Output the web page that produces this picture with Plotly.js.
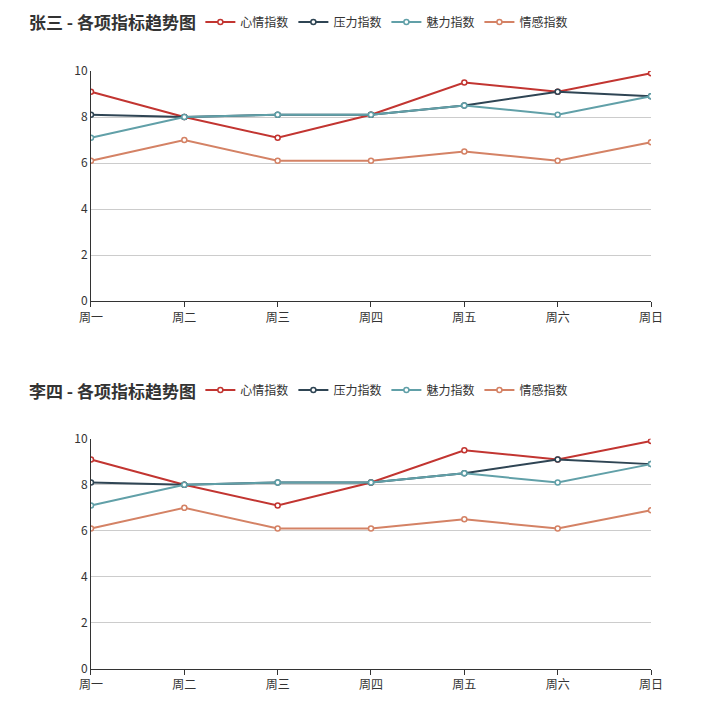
<!DOCTYPE html>
<html>
<head>
<meta charset="utf-8">
<script src="https://cdn.plot.ly/plotly-3.0.1.min.js"></script>
<style>html,body{margin:0;padding:0;background:#fff}</style>
</head>
<body>
<div id="plot" style="width:708px;height:717px"></div>
<script>
const days = ['周一', '周二', '周三', '周四', '周五', '周六', '周日'];
const names = ['心情指数', '压力指数', '魅力指数', '情感指数'];
const colors = ['#c23531', '#2f4554', '#61a0a8', '#d48265'];
const mood = [9.1, 8.0, 7.1, 8.1, 9.5, 9.1, 9.9];
const stress = [8.1, 8.0, 8.1, 8.1, 8.5, 9.1, 8.9];
const charm = [7.1, 8.0, 8.1, 8.1, 8.5, 8.1, 8.9];
const emotion = [6.1, 7.0, 6.1, 6.1, 6.5, 6.1, 6.9];
const people = ['张三', '李四'];

const series = [mood, stress, charm, emotion];
const traces = [];
people.forEach((p, k) => {
  series.forEach((s, i) => {
    traces.push({
      x: days, y: s, name: names[i], type: 'scatter', mode: 'lines+markers',
      xaxis: k ? 'x2' : 'x', yaxis: k ? 'y2' : 'y',
      legend: k ? 'legend2' : 'legend',
      line: {color: colors[i], width: 2},
      marker: {color: '#fff', size: 5, line: {color: colors[i], width: 1.5}},
      hoverinfo: 'y'
    });
  });
});

const xa = {
  type: 'category', range: [0, 6], domain: [0.1285, 0.9195],
  showline: true, linecolor: '#333', ticks: 'outside', ticklen: 5, tickcolor: '#333',
  showgrid: false, tickfont: {size: 12, color: '#333'}, zeroline: false
};
const ya = {
  range: [0, 10], dtick: 2, showline: true, linecolor: '#333', ticks: '',
  gridcolor: '#ccc', zeroline: false, tickfont: {size: 12, color: '#333'}
};
const lg = {
  orientation: 'h', x: 0.283, xanchor: 'left', yanchor: 'middle',
  font: {size: 12, color: '#333'}, bgcolor: 'rgba(0,0,0,0)'
};

const layout = {
  width: 708, height: 717,
  margin: {l: 0, r: 0, t: 0, b: 0},
  font: {family: 'Noto Sans CJK SC, sans-serif'},
  xaxis: Object.assign({}, xa, {anchor: 'y'}),
  yaxis: Object.assign({}, ya, {domain: [0.580, 0.901], anchor: 'x'}),
  xaxis2: Object.assign({}, xa, {anchor: 'y2'}),
  yaxis2: Object.assign({}, ya, {domain: [0.067, 0.388], anchor: 'x2'}),
  legend: Object.assign({}, lg, {y: 1 - 22 / 717}),
  legend2: Object.assign({}, lg, {y: 1 - 390 / 717}),
  annotations: people.map((p, k) => ({
    text: '<b>' + p + ' - 各项指标趋势图</b>', xref: 'paper', yref: 'paper',
    x: 27 / 708, y: 1 - (k ? 390 : 22) / 717, xanchor: 'left', yanchor: 'middle',
    showarrow: false, font: {size: 17, color: '#333'}
  })),
  plot_bgcolor: '#fff', paper_bgcolor: '#fff'
};

Plotly.newPlot('plot', traces, layout, {displayModeBar: false});
</script>
</body>
</html>
